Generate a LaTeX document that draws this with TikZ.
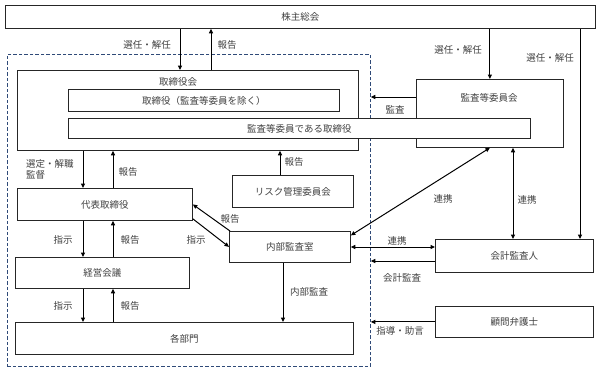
\documentclass[tikz,border=0pt]{standalone}
\usepackage{fontspec}
\setmainfont{Noto Sans CJK JP}
\usetikzlibrary{arrows.meta}
\definecolor{dashblue}{HTML}{2F4A78}
\definecolor{txt}{HTML}{404040}
\begin{document}
\begin{tikzpicture}[x=1pt,y=-1pt,
  font=\fontsize{9.5}{11}\selectfont,
  box/.style={draw=black!85, line width=0.8pt, fill=white, inner sep=0pt, anchor=north west, text=txt},
  lbl/.style={text=txt, inner sep=0pt},
  arr/.style={line width=1pt, -{Triangle[length=4.5pt,width=4pt]}},
  darr/.style={line width=1pt, {Triangle[length=4.5pt,width=4pt]}-{Triangle[length=4.5pt,width=4pt]}}]
\useasboundingbox (0,0) rectangle (600,370);

% dashed group
\node[draw=dashblue, line width=0.8pt, dash pattern=on 3.5pt off 2pt, inner sep=0pt, anchor=north west,
      minimum width=363pt, minimum height=312pt] (grp) at (7,54) {};

% boxes
\node[box, minimum width=590pt, minimum height=23pt] (kabu) at (5,5) {株主総会};
\node[box, minimum width=341pt, minimum height=80pt] (torikai) at (17,70) {};
\node[lbl] (torikaiT) at (178,82) {取締役会};
\node[box, minimum width=271pt, minimum height=22pt] (tori1) at (68,89) {取締役（監査等委員を除く）};
\node[box, minimum width=147pt, minimum height=68pt] (kansa) at (416,79) {};
\node[lbl] (kansaT) at (489,98) {監査等委員会};
\node[box, minimum width=462pt, minimum height=20pt] (tori2) at (68,118) {監査等委員である取締役};
\node[box, minimum width=121pt, minimum height=32pt] (risk) at (232,175) {リスク管理委員会};
\node[box, minimum width=175pt, minimum height=32pt] (daihyo) at (17,188) {代表取締役};
\node[box, minimum width=121pt, minimum height=31pt] (naibu) at (229,231) {内部監査室};
\node[box, minimum width=174pt, minimum height=31pt] (keiei) at (15,257) {経営会議};
\node[box, minimum width=338pt, minimum height=32pt] (bumon) at (15,322) {各部門};
\node[box, minimum width=158pt, minimum height=33pt] (kaikei) at (435,239) {会計監査人};
\node[box, minimum width=158pt, minimum height=31pt] (komon) at (435,306) {顧問弁護士};

% helper coordinates
\coordinate (xa) at (83,0);
\coordinate (xb) at (113,0);
\coordinate (xs) at (180,0);
\coordinate (xh) at (211,0);
\coordinate (xr) at (280,0);
\coordinate (xn) at (283,0);
\coordinate (xk) at (513,0);
\coordinate (xe) at (580,0);
\coordinate (ykansa) at (0,97);
\coordinate (yrenkei) at (0,247);
\coordinate (yaudit) at (0,261);

% shareholders
\draw[arr] (xs |- kabu.south) -- (xs |- torikai.north);
\draw[arr] (xh |- torikai.north) -- (xh |- kabu.south);
\draw[arr] (kansa.north |- kabu.south) -- (kansa.north);
\draw[arr] (xe |- kabu.south) -- (xe |- kaikei.north);
\node[lbl] at (147,45) {選任・解任};
\node[lbl] at (227,45) {報告};
\node[lbl] at (458,50) {選任・解任};
\node[lbl] at (550,58) {選任・解任};

% audit committee
\draw[arr] (kansa.west |- ykansa) -- (grp.east |- ykansa);
\node[lbl] at (395,110) {監査};

% board <-> representative
\draw[arr] (xa |- torikai.south) -- (xa |- daihyo.north);
\draw[arr] (xb |- daihyo.north) -- (xb |- torikai.south);
\node[lbl, align=left, anchor=west] at (26,169) {選定・解職\\監督};
\node[lbl] at (128,172) {報告};

% risk
\draw[arr] (xr |- risk.north) -- (xr |- torikai.south);
\node[lbl] at (294,162) {報告};

% representative <-> management meeting
\draw[arr] (xa |- daihyo.south) -- (xa |- keiei.north);
\draw[arr] (xb |- keiei.north) -- (xb |- daihyo.south);
\node[lbl] at (63,240) {指示};
\node[lbl] at (130,240) {報告};

% management meeting <-> departments
\draw[arr] (xa |- keiei.south) -- (xa |- bumon.north);
\draw[arr] (xb |- bumon.north) -- (xb |- keiei.south);
\node[lbl] at (63,306) {指示};
\node[lbl] at (130,306) {報告};

% representative <-> internal audit
\draw[arr] ([xshift=1pt]naibu.north west) -- (daihyo.east);
\draw[arr] ([yshift=2pt]daihyo.south east) -- (naibu.west);
\node[lbl] at (230,219) {報告};
\node[lbl] at (196,240) {指示};

% internal audit -> departments
\draw[arr] (xn |- naibu.south) -- (xn |- bumon.north);
\node[lbl] at (309,292) {内部監査};

% internal audit <-> audit committee
\draw[darr] ([yshift=11.5pt]naibu.east) -- (kansa.south);
\node[lbl] at (443,199) {連携};

% audit committee <-> accounting auditor
\draw[darr] (xk |- kansa.south) -- (xk |- kaikei.north);
\node[lbl] at (527,200) {連携};

% internal audit <-> accounting auditor
\draw[darr] (naibu.east |- yrenkei) -- (kaikei.west |- yrenkei);
\node[lbl] at (397,241) {連携};

% accounting audit
\draw[arr] (kaikei.west |- yaudit) -- (grp.east |- yaudit);
\node[lbl] at (402,278) {会計監査};

% legal advisor
\draw[arr] (komon.west) -- (grp.east |- komon.west);
\node[lbl] at (400,331) {指導・助言};
\end{tikzpicture}
\end{document}
